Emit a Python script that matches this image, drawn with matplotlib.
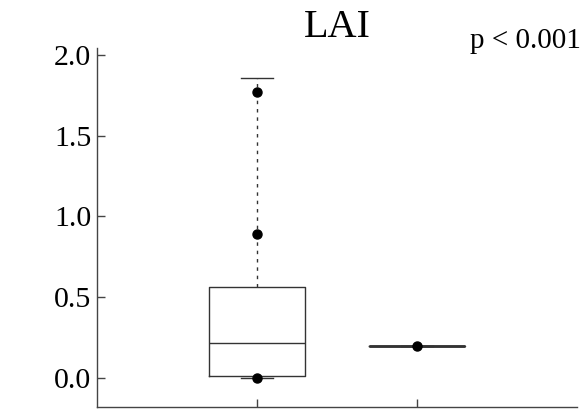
import matplotlib
matplotlib.use('agg')
import matplotlib.pyplot as plt

plt.rcParams['font.family'] = ['Liberation Serif', 'DejaVu Serif']

# box summaries
positions = [1, 2]
q1 = [0.012, 0.2]
med = [0.217, 0.2]
q3 = [0.562, 0.2]
whislo = [0.0, 0.2]
whishi = [1.855, 0.2]

# overlaid observations
points_x = [1, 1, 1, 2]
points_y = [0.0, 0.888, 1.772, 0.197]

yticks = [0.0, 0.5, 1.0, 1.5, 2.0]
title = 'LAI'
ptext = 'p < 0.001'

stats = []
for i in range(len(positions)):
    stats.append({'q1': q1[i], 'med': med[i], 'q3': q3[i],
                  'whislo': whislo[i], 'whishi': whishi[i], 'fliers': []})

fig = plt.figure(figsize=(5.84, 4.09), dpi=100)
ax = fig.add_axes([0.166, 0.005, 0.822, 0.878])

edge = '#333333'
res = ax.bxp(stats, positions=positions, widths=0.6, showfliers=False,
             boxprops=dict(color=edge, linewidth=1.0),
             medianprops=dict(color=edge, linewidth=1.0),
             whiskerprops=dict(color=edge, linewidth=1.0, linestyle=(0, (2.5, 3.5))),
             capprops=dict(color=edge, linewidth=1.0),
             capwidths=0.2)
# collapsed box reads as a heavier line
res['medians'][1].set_linewidth(2.0)
ax.plot(points_x, points_y, 'o', color='black', markersize=6.5, zorder=5)

ax.set_xlim(0, 3.0)
ax.set_ylim(-0.18, 2.043)
ax.set_yticks(yticks)
ax.set_yticklabels(['%.1f' % v for v in yticks])
ax.set_xticks(positions)
ax.set_xticklabels(['', ''])
ax.tick_params(axis='both', direction='in', length=6, width=1, colors='#444444',
               labelsize=21.5, labelcolor='black', pad=4)
for s in ['top', 'right']:
    ax.spines[s].set_visible(False)
for s in ['left', 'bottom']:
    ax.spines[s].set_color('#444444')
    ax.spines[s].set_linewidth(1.0)

ax.set_title(title, fontsize=29, pad=8)
fig.text(0.995, 0.883, ptext, ha='right', va='baseline', fontsize=21)

fig.savefig('out.png', dpi=100)
